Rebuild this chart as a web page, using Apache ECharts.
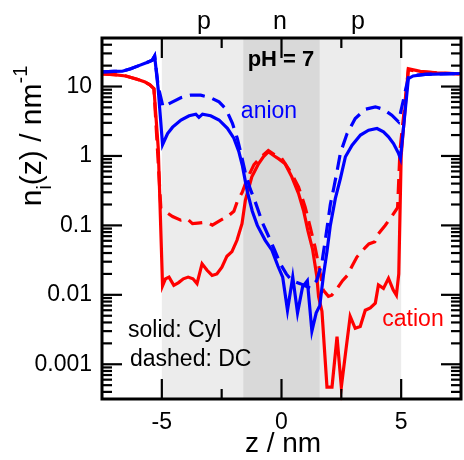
<!DOCTYPE html>
<html><head><meta charset="utf-8">
<script src="https://cdn.jsdelivr.net/npm/echarts@6/dist/echarts.min.js"></script>
<style>html,body{margin:0;padding:0;background:#fff}#c{width:464px;height:460px}</style>
</head><body><div id="c"></div>
<script>
const X_MIN = -7.5, X_MAX = 7.5, Y_MIN = 0.000316, Y_MAX = 50;
const xMajorTicks = [-5, 0, 5];
const xMinorTicks = [-2.5, 2.5];
const yMajorTicks = [0.001, 0.01, 0.1, 1, 10];
const yMinorTicks = [0.0004, 0.0005, 0.0006, 0.0007, 0.0008, 0.0009,
  0.002, 0.003, 0.004, 0.005, 0.006, 0.007, 0.008, 0.009,
  0.02, 0.03, 0.04, 0.05, 0.06, 0.07, 0.08, 0.09,
  0.2, 0.3, 0.4, 0.5, 0.6, 0.7, 0.8, 0.9,
  2, 3, 4, 5, 6, 7, 8, 9, 20, 30, 40];
const lightBands = [[-5, -1.6], [1.6, 5]];
const darkBands = [[-1.6, 1.6]];

// cation, Cyl (solid)
const cationCyl = [[-7.5, 15.2], [-7.0, 14.8], [-6.5, 14.2], [-6.0, 12.6], [-5.7, 11.6], [-5.5, 10.6], [-5.33, 9.3],
  [-5.15, 1.3], [-4.97, 0.0135], [-4.85, 0.017], [-4.7, 0.018], [-4.5, 0.0137], [-4.3, 0.015], [-4.1, 0.017],
  [-3.9, 0.018], [-3.7, 0.017], [-3.53, 0.0145], [-3.32, 0.028], [-3.11, 0.0226], [-2.9, 0.019], [-2.7, 0.020],
  [-2.49, 0.025], [-2.28, 0.036], [-2.07, 0.042], [-1.86, 0.061], [-1.65, 0.106], [-1.51, 0.23], [-1.24, 0.5],
  [-0.96, 0.77], [-0.75, 0.98], [-0.55, 1.15], [-0.3, 1.0], [-0.1, 0.9], [0.15, 0.77], [0.43, 0.5], [0.71, 0.29],
  [0.92, 0.164], [1.1, 0.085], [1.3, 0.045], [1.47, 0.019], [1.55, 0.0094], [1.69, 0.0058], [1.9, 0.00047],
  [2.11, 0.00047], [2.32, 0.0025], [2.5, 0.00047], [2.67, 0.0014], [2.87, 0.0049], [3.08, 0.0033], [3.29, 0.0035],
  [3.5, 0.006], [3.71, 0.0065], [3.92, 0.0076], [4.05, 0.0139], [4.26, 0.0124], [4.47, 0.0173], [4.67, 0.0117],
  [4.8, 0.0099], [4.9, 0.02], [5.0, 1.0], [5.3, 18], [5.8, 16.5], [6.5, 15.8], [7.5, 15.2]];

// cation, DC (dashed)
const cationDC = [[-7.5, 15.2], [-7.0, 14.8], [-6.5, 14.2], [-6.0, 12.6], [-5.7, 11.6], [-5.5, 10.6], [-5.33, 9.3],
  [-5.04, 0.176], [-4.76, 0.15], [-4.55, 0.134], [-4.21, 0.119], [-3.95, 0.125], [-3.72, 0.106], [-3.5, 0.108],
  [-3.3, 0.11], [-3.1, 0.11], [-2.89, 0.101], [-2.54, 0.119], [-2.26, 0.134], [-1.99, 0.16], [-1.85, 0.22],
  [-1.64, 0.3], [-1.43, 0.47], [-1.15, 0.75], [-0.875, 0.95], [-0.55, 1.2], [-0.3, 1.05], [0.0, 0.93],
  [0.43, 0.55], [0.71, 0.36], [0.99, 0.183], [1.2, 0.094], [1.4, 0.049], [1.54, 0.028], [1.75, 0.0116],
  [1.96, 0.0095], [2.1, 0.0099], [2.3, 0.012], [2.55, 0.016], [2.75, 0.019], [2.95, 0.026], [3.15, 0.035],
  [3.5, 0.048], [3.65, 0.054], [3.9, 0.058], [4.05, 0.076], [4.33, 0.1], [4.55, 0.126], [4.85, 0.18],
  [4.95, 1.2], [5.3, 17.5], [5.8, 16.3], [6.5, 15.7], [7.5, 15.2]];

// anion, Cyl (solid)
const anionCyl = [[-7.5, 16.3], [-7.0, 16.5], [-6.65, 16.6], [-6.3, 18], [-5.96, 20], [-5.65, 22], [-5.4, 24],
  [-5.3, 27.5], [-5.15, 9], [-4.97, 1.45], [-4.76, 2.1], [-4.55, 2.6], [-4.2, 3.3], [-3.86, 3.8], [-3.58, 4.0],
  [-3.45, 3.6], [-3.3, 4.0], [-2.96, 3.8], [-2.61, 3.3], [-2.26, 2.5], [-1.99, 1.8], [-1.78, 1.15], [-1.64, 0.74],
  [-1.43, 0.31], [-1.22, 0.16], [-1.01, 0.10], [-0.68, 0.061], [-0.4, 0.044], [-0.15, 0.026], [0.05, 0.018],
  [0.25, 0.006], [0.47, 0.018], [0.67, 0.0055], [0.88, 0.013], [1.08, 0.016], [1.27, 0.003], [1.45, 0.0055],
  [1.6, 0.007], [1.76, 0.02], [1.9, 0.042], [2.04, 0.1], [2.25, 0.245], [2.46, 0.47], [2.67, 0.975], [2.95, 1.43],
  [3.3, 2.0], [3.64, 2.35], [3.99, 2.49], [4.26, 2.23], [4.47, 1.89], [4.68, 1.51], [4.89, 1.09], [4.97, 0.92],
  [5.3, 13], [5.5, 14.2], [6.0, 15], [7.5, 15.4]];

// anion, DC (dashed)
const anionDC = [[-7.5, 16.3], [-7.0, 16.5], [-6.65, 16.6], [-6.3, 18], [-5.96, 20], [-5.65, 22], [-5.4, 24],
  [-5.3, 27.5], [-5.15, 10], [-4.95, 5.1], [-4.55, 6.0], [-4.21, 6.9], [-3.79, 7.5], [-3.375, 7.5], [-2.96, 6.9],
  [-2.61, 6.0], [-2.33, 4.8], [-2.05, 2.95], [-1.85, 1.8], [-1.71, 1.15], [-1.5, 0.55], [-1.3, 0.33], [-1.1, 0.22],
  [-0.8, 0.11], [-0.5, 0.065], [-0.3, 0.045], [-0.05, 0.028], [0.2, 0.02], [0.43, 0.016], [0.78, 0.0145],
  [1.2, 0.0125], [1.47, 0.016], [1.68, 0.028], [1.84, 0.065], [2.04, 0.2], [2.18, 0.34], [2.32, 0.6], [2.46, 1.1],
  [2.74, 2.1], [3.08, 3.46], [3.5, 4.7], [3.92, 5.1], [4.26, 4.7], [4.61, 3.86], [4.89, 3.1], [5.3, 13.5],
  [5.6, 14.5], [6.0, 15], [7.5, 15.4]];

const FONT = '"Liberation Sans", Arial, Helvetica, sans-serif';
const RED = '#ff0000', BLUE = '#0000ff';

const tickData = [];
yMajorTicks.forEach(v => tickData.push([X_MIN, v, 0]));
yMinorTicks.forEach(v => tickData.push([X_MIN, v, 1]));
xMajorTicks.forEach(v => tickData.push([v, Y_MIN, 2]));
xMinorTicks.forEach(v => tickData.push([v, Y_MIN, 3]));

function bandSeries(bands, color) {
  return {
    type: 'custom', z: 0, silent: true, clip: true,
    encode: { x: [0, 1], y: 2 },
    data: bands.map(b => [b[0], b[1], Y_MIN]),
    renderItem(params, api) {
      const p0 = api.coord([api.value(0), Y_MAX]);
      const p1 = api.coord([api.value(1), Y_MIN]);
      return { type: 'rect', shape: { x: p0[0], y: p0[1], width: p1[0] - p0[0], height: p1[1] - p0[1] },
        style: { fill: color } };
    }
  };
}

function lineSeries(name, data, color, dashed, z) {
  return {
    name, type: 'line', data, showSymbol: false, symbol: 'none', z,
    lineStyle: { color, width: 3.2, type: dashed ? [15, 8] : 'solid', cap: 'butt', join: 'miter' },
    itemStyle: { color }
  };
}

const chart = echarts.init(document.getElementById('c'), null, { renderer: 'canvas' });
chart.setOption({
  animation: false,
  backgroundColor: '#fff',
  grid: { left: 102, right: 2, top: 38, bottom: 61, show: true, borderColor: '#000', borderWidth: 3, backgroundColor: 'transparent', z: 10 },
  xAxis: {
    type: 'value', min: X_MIN, max: X_MAX, interval: 2.5,
    axisLine: { show: false }, axisTick: { show: false }, splitLine: { show: false },
    axisLabel: { margin: 12, fontSize: 23, color: '#000', fontFamily: FONT,
      formatter: v => (xMajorTicks.indexOf(v) >= 0 ? String(v) : '') }
  },
  yAxis: {
    type: 'log', logBase: 10, min: Y_MIN, max: Y_MAX,
    axisLine: { show: false }, axisTick: { show: false }, splitLine: { show: false },
    axisLabel: { margin: 10, fontSize: 23, color: '#000', fontFamily: FONT, showMinLabel: false, showMaxLabel: false,
      formatter: v => {
        const t = yMajorTicks.find(m => Math.abs(Math.log10(m) - Math.log10(v)) < 1e-6);
        return t === undefined ? '' : String(t);
      } }
  },
  series: [
    bandSeries(lightBands, '#ececec'),
    bandSeries(darkBands, '#d9d9d9'),
    lineSeries('cation Cyl', cationCyl, RED, false, 2),
    lineSeries('cation DC', cationDC, RED, true, 2),
    lineSeries('anion Cyl', anionCyl, BLUE, false, 3),
    lineSeries('anion DC', anionDC, BLUE, true, 3),
    {
      type: 'custom', z: 5, silent: true, clip: false,
      encode: { x: 0, y: 1 },
      data: tickData,
      renderItem(params, api) {
        const k = api.value(2);
        const len = (k === 0 || k === 2) ? 20 : 10;
        const st = { stroke: '#000', lineWidth: 2.2 };
        if (k < 2) {
          const a = api.coord([X_MIN, api.value(1)]);
          const b = api.coord([X_MAX, api.value(1)]);
          return { type: 'group', children: [
            { type: 'line', shape: { x1: a[0], y1: a[1], x2: a[0] + len, y2: a[1] }, style: st },
            { type: 'line', shape: { x1: b[0], y1: b[1], x2: b[0] - len, y2: b[1] }, style: st }
          ] };
        }
        const a = api.coord([api.value(0), Y_MIN]);
        const b = api.coord([api.value(0), Y_MAX]);
        return { type: 'group', children: [
          { type: 'line', shape: { x1: a[0], y1: a[1], x2: a[0], y2: a[1] - len }, style: st },
          { type: 'line', shape: { x1: b[0], y1: b[1], x2: b[0], y2: b[1] + len }, style: st }
        ] };
      }
    }
  ],
  graphic: [
    { type: 'text', x: 204, y: 22, style: { text: 'p', font: '25px ' + FONT, fill: '#000', align: 'center', verticalAlign: 'middle' } },
    { type: 'text', x: 280, y: 22, style: { text: 'n', font: '25px ' + FONT, fill: '#000', align: 'center', verticalAlign: 'middle' } },
    { type: 'text', x: 358, y: 22, style: { text: 'p', font: '25px ' + FONT, fill: '#000', align: 'center', verticalAlign: 'middle' } },
    { type: 'text', x: 281, y: 60, z: 20, style: { text: 'pH = 7', font: 'bold 22px ' + FONT, fill: '#000', align: 'center', verticalAlign: 'middle' } },
    { type: 'text', x: 269, y: 112, z: 20, style: { text: 'anion', font: '23px ' + FONT, fill: BLUE, align: 'center', verticalAlign: 'middle' } },
    { type: 'text', x: 413, y: 320, z: 20, style: { text: 'cation', font: '23px ' + FONT, fill: RED, align: 'center', verticalAlign: 'middle' } },
    { type: 'text', x: 128, y: 331, z: 20, style: { text: 'solid: Cyl', font: '23px ' + FONT, fill: '#000', align: 'left', verticalAlign: 'middle' } },
    { type: 'text', x: 130, y: 360, z: 20, style: { text: 'dashed: DC', font: '23px ' + FONT, fill: '#000', align: 'left', verticalAlign: 'middle' } },
    { type: 'text', x: 283, y: 444, style: { text: 'z / nm', font: '28px ' + FONT, fill: '#000', align: 'center', verticalAlign: 'middle' } },
    { type: 'text', x: 33, y: 136, rotation: Math.PI / 2,
      style: { text: '{a|n}{b|i}{a|(z) / nm}{c|-1}', align: 'center', verticalAlign: 'middle', fill: '#000',
        rich: {
          a: { fontSize: 30, fontFamily: FONT, lineHeight: 44, verticalAlign: 'middle', fill: '#000' },
          b: { fontSize: 20, fontFamily: FONT, lineHeight: 44, verticalAlign: 'bottom', fill: '#000' },
          c: { fontSize: 20, fontFamily: FONT, lineHeight: 44, verticalAlign: 'top', fill: '#000' }
        } } }
  ]
});
</script></body></html>
